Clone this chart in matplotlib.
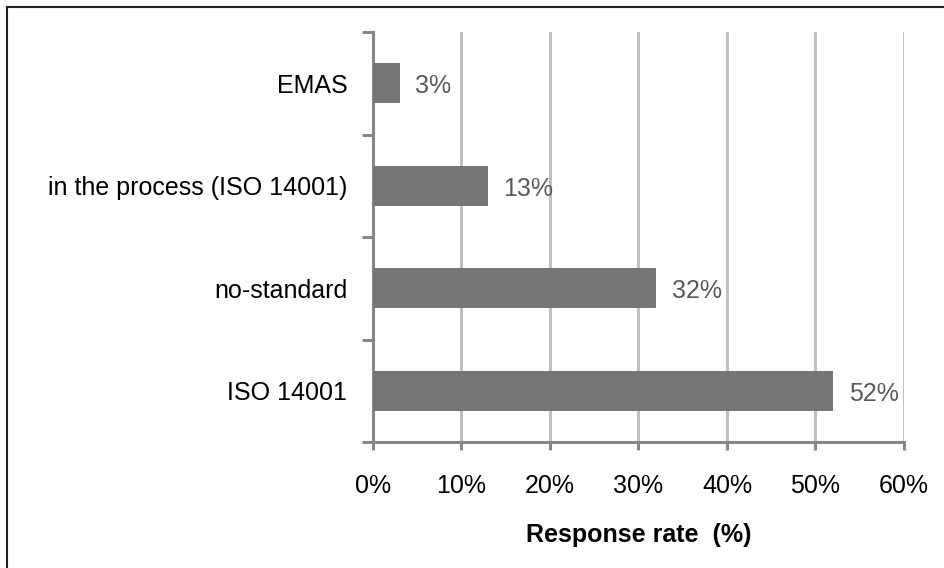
import numpy as np
import matplotlib.pyplot as plt
from matplotlib.lines import Line2D

plt.rcParams['font.family'] = ['Liberation Sans', 'DejaVu Sans']

categories = ['ISO 14001', 'no-standard', 'in the process (ISO 14001)', 'EMAS']
rates = [52, 32, 13, 3]
xticks = [0, 10, 20, 30, 40, 50, 60]

fig = plt.figure(figsize=(9.45, 5.68), dpi=100)
ax = fig.add_axes([0.3947, 0.2218, 0.5619, 0.7218])

ypos = np.arange(len(categories))
ax.barh(ypos, rates, height=0.39, color='#767676', zorder=3)

for y, v in zip(ypos, rates):
    ax.text(v + 1.75, y - 0.03, '%d%%' % v, va='center', ha='left',
            fontsize=18, color='#595959', zorder=4)

ax.set_xlim(0, 60)
ax.set_ylim(-0.5, 3.5)
ax.set_xticks(xticks)
ax.set_xticklabels(['%d%%' % t for t in xticks], fontsize=18)
ax.set_yticks(ypos)
ax.set_yticklabels(categories, fontsize=18)
ax.set_yticks(np.arange(-0.5, 4, 1), minor=True)
ax.tick_params(axis='y', which='major', length=0, pad=18.5)
ax.tick_params(axis='y', which='minor', length=8, width=2.2, color='#878787')
ax.tick_params(axis='x', which='major', length=6, width=2.2, color='#878787', pad=17)

ax.xaxis.grid(True, color='#c0c0c0', linewidth=2.2, zorder=0)
for s in ['top', 'right']:
    ax.spines[s].set_visible(False)
for s in ['left', 'bottom']:
    ax.spines[s].set_color('#878787')
    ax.spines[s].set_linewidth(2.2)

ax.set_xlabel('Response rate  (%)', fontsize=18, fontweight='bold', labelpad=18)

# frame lines along the top and left edge
fig.add_artist(Line2D([7 / 945, 1], [1 - 7 / 568, 1 - 7 / 568], transform=fig.transFigure,
                      color='#222222', linewidth=1.5))
fig.add_artist(Line2D([7 / 945, 7 / 945], [0, 1 - 7 / 568], transform=fig.transFigure,
                      color='#222222', linewidth=1.5))

fig.savefig('out.png', dpi=100)
